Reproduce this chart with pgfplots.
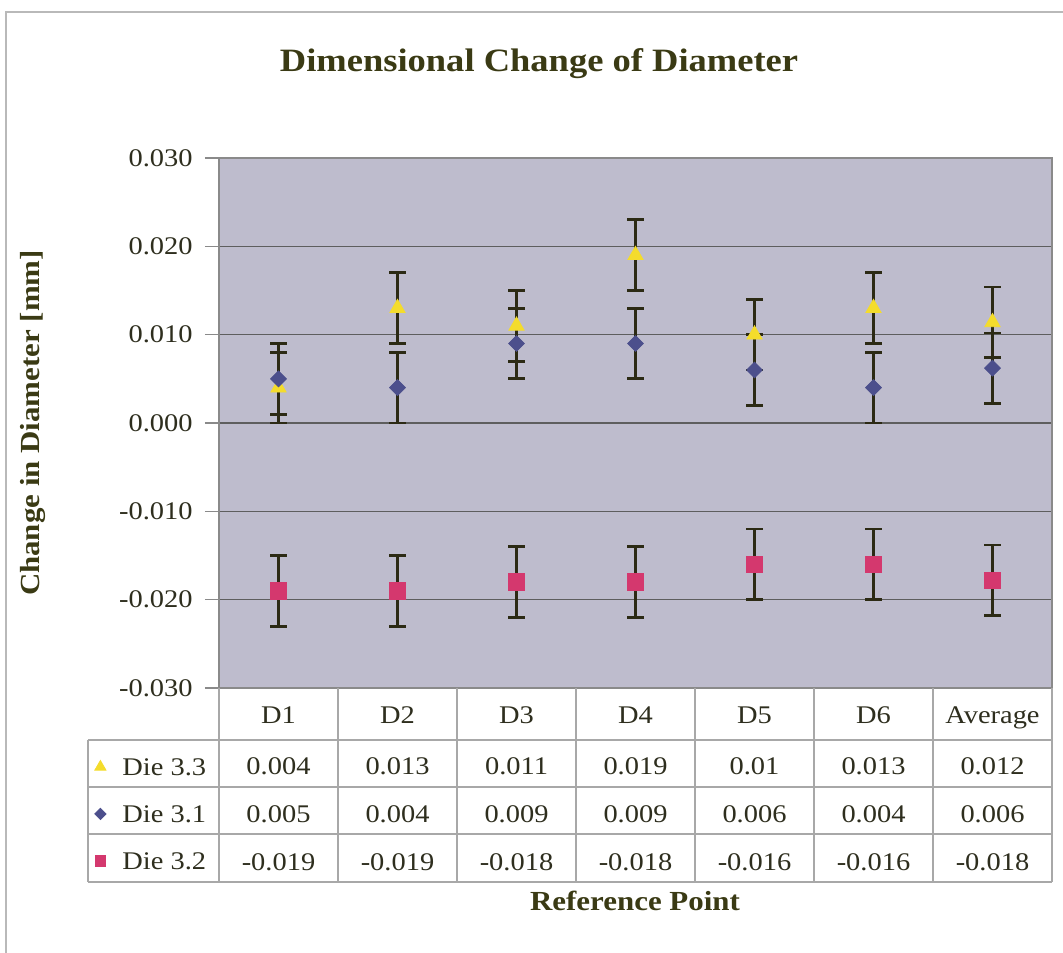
\documentclass[border=0pt]{standalone}
\usepackage{pgfplots}
\pgfplotsset{compat=1.18}
\usepackage{pgfplotstable}
\usepackage{fontspec}
\setmainfont{Liberation Serif}[FakeStretch=1.12]

\definecolor{plotbg}{HTML}{BEBCCD}
\definecolor{gridc}{HTML}{5E5E5E}
\definecolor{framec}{HTML}{8A8A8A}
\definecolor{tabc}{HTML}{A8A8A8}
\definecolor{txt}{HTML}{2E2E1E}
\definecolor{ttl}{HTML}{3A3A14}
\definecolor{errc}{HTML}{2C2A14}
\definecolor{yel}{HTML}{F4DC2C}
\definecolor{blu}{HTML}{4C4F8C}
\definecolor{mag}{HTML}{D4386E}

% x = reference point (D1..D6, Average), y = change in diameter, e = error
\pgfplotstableread{
x y e
0 0.004 0.004
1 0.013 0.004
2 0.011 0.004
3 0.019 0.004
4 0.010 0.004
5 0.013 0.004
6 0.0114 0.004
}\dieA % Die 3.3

\pgfplotstableread{
x y e
0 0.005 0.004
1 0.004 0.004
2 0.009 0.004
3 0.009 0.004
4 0.006 0.004
5 0.004 0.004
6 0.0062 0.004
}\dieB % Die 3.1

\pgfplotstableread{
x y e
0 -0.019 0.004
1 -0.019 0.004
2 -0.018 0.004
3 -0.018 0.004
4 -0.016 0.004
5 -0.016 0.004
6 -0.0178 0.004
}\dieC % Die 3.2

\newcommand\tabfont{\fontsize{12.7}{15}\selectfont}
\newcommand\labfont{\bfseries\fontsize{13.8}{16}\selectfont}

\begin{document}
\begin{tikzpicture}
\useasboundingbox (-109.5pt,-132pt) rectangle (422pt,344pt);
\draw[gray!55, line width=0.8pt] (-106.5pt,-140pt) -- (-106.5pt,338pt) -- (430pt,338pt);

\begin{axis}[
  at={(0pt,0pt)}, anchor=south west,
  width=416.5pt, height=265pt, scale only axis,
  xmin=-0.5, xmax=6.5, ymin=-0.03, ymax=0.03,
  clip=false,
  scaled y ticks=false,
  axis background/.style={fill=plotbg},
  axis line style={framec, line width=0.6pt},
  ytick={-0.03,-0.02,-0.01,0,0.01,0.02,0.03},
  yticklabels={-0.030,-0.020,-0.010,0.000,0.010,0.020,0.030},
  ymajorgrids, grid style={gridc, line width=0.7pt},
  ytick pos=left, tick align=outside, major tick length=7pt,
  ytick style={framec, line width=0.6pt},
  xtick={0,...,6},
  xticklabels={D1,D2,D3,D4,D5,D6,Average},
  xtick style={draw=none},
  xticklabel style={anchor=base, yshift=-10.5pt},
  ticklabel style={font=\tabfont, text=txt},
  yticklabel style={anchor=east, inner sep=0pt, xshift=-6pt},
  legend style={at={(axis description cs:0,0)}, anchor=north west,
    xshift=-65.5pt, yshift=-27.5pt, draw=none, fill=none, inner sep=0pt,
    font=\tabfont, text=txt, row sep=0pt,
    nodes={inner sep=1pt, minimum height=23.5pt, text depth=0pt}},
  legend cell align=left,
  legend image code/.code={\path[draw=none, fill=none] (0pt,-1pt) rectangle (16pt,1pt); \draw[#1] plot coordinates {(6pt,0pt)};},
]
\addplot[only marks, mark=triangle*, mark size=4.4pt, color=yel, forget plot,
  error bars/.cd, y dir=both, y explicit,
  error bar style={errc, line width=1.35pt},
  error mark options={errc, rotate=90, mark size=4.2pt, line width=1.35pt}]
  table[x=x, y=y, y error=e] {\dieA};
\addplot[only marks, mark=square*, mark size=2.8pt, mark options={rotate=45}, color=blu, forget plot,
  error bars/.cd, y dir=both, y explicit,
  error bar style={errc, line width=1.35pt},
  error mark options={errc, rotate=90, mark size=4.2pt, line width=1.35pt}]
  table[x=x, y=y, y error=e] {\dieB};
\addplot[only marks, mark=square*, mark size=4.1pt, color=mag, forget plot,
  error bars/.cd, y dir=both, y explicit,
  error bar style={errc, line width=1.35pt},
  error mark options={errc, rotate=90, mark size=4.2pt, line width=1.35pt}]
  table[x=x, y=y, y error=e] {\dieC};

\addlegendimage{only marks, mark=triangle*, mark size=3.2pt, color=yel}
\addlegendentry{Die 3.3}
\addlegendimage{only marks, mark=square*, mark size=2pt, mark options={rotate=45}, color=blu}
\addlegendentry{Die 3.1}
\addlegendimage{only marks, mark=square*, mark size=2.6pt, color=mag}
\addlegendentry{Die 3.2}
\end{axis}

% data table grid
\begin{scope}[tabc, line width=0.6pt]
  \foreach \yy in {-26,-49.5,-73,-97} \draw (-65.5pt,\yy pt) -- (416.5pt,\yy pt);
  \foreach \i in {0,...,7} \draw ({59.5*\i pt},0pt) -- ({59.5*\i pt},-97pt);
  \draw (-65.5pt,-26pt) -- (-65.5pt,-97pt);
\end{scope}

% data table values
\foreach \v [count=\i from 0] in {0.004,0.013,0.011,0.019,0.01,0.013,0.012}
  \node[anchor=base, font=\tabfont, text=txt, inner sep=0pt] at ({29.75pt+59.5pt*\i},-43pt) {\v};
\foreach \v [count=\i from 0] in {0.005,0.004,0.009,0.009,0.006,0.004,0.006}
  \node[anchor=base, font=\tabfont, text=txt, inner sep=0pt] at ({29.75pt+59.5pt*\i},-67pt) {\v};
\foreach \v [count=\i from 0] in {-0.019,-0.019,-0.018,-0.018,-0.016,-0.016,-0.018}
  \node[anchor=base, font=\tabfont, text=txt, inner sep=0pt] at ({29.75pt+59.5pt*\i},-91pt) {\v};

% titles
\node[anchor=base, font=\bfseries\fontsize{16.3}{20}\selectfont, text=ttl] at (160pt,308pt) {Dimensional Change of Diameter};
\node[rotate=90, font=\labfont, text=ttl] at (-93pt,132.5pt) {Change in Diameter [mm]};
\node[anchor=base, font=\labfont, text=ttl] at (208pt,-111pt) {Reference Point};
\end{tikzpicture}
\end{document}
